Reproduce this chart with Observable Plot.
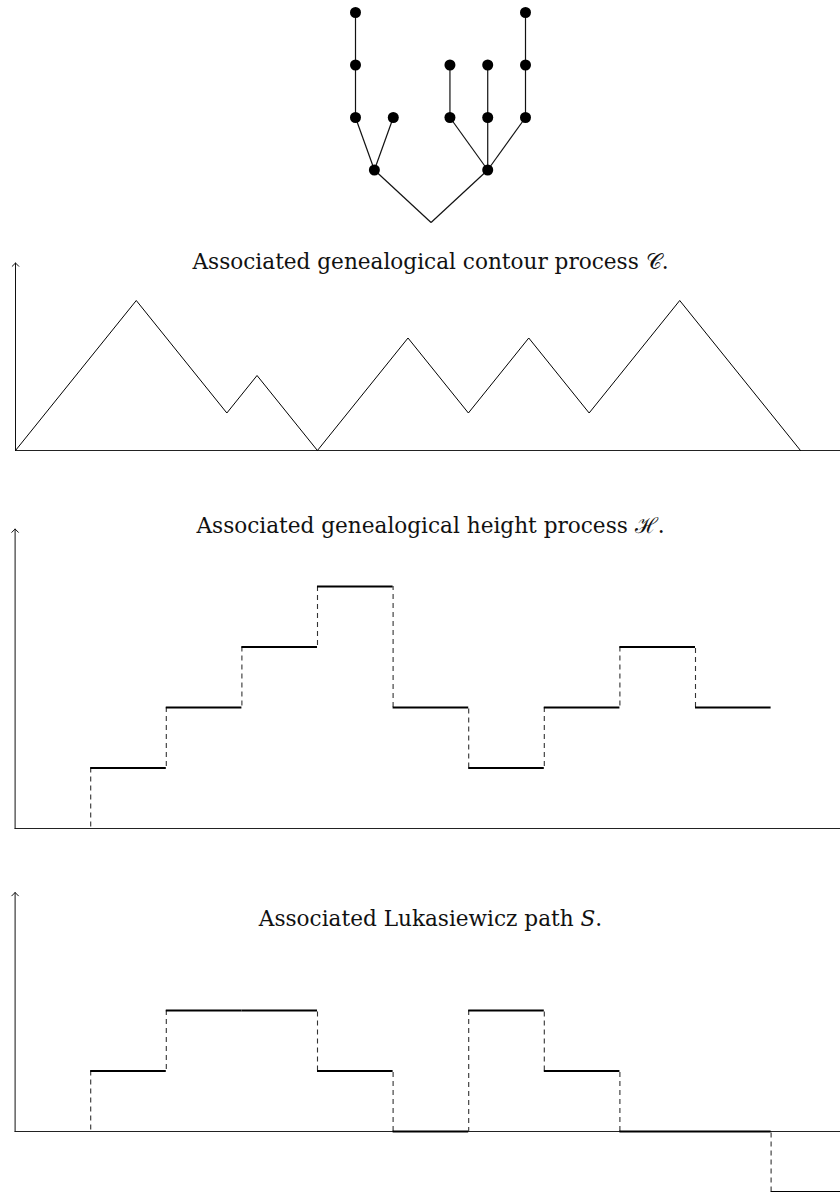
<!DOCTYPE html>
<html><head><meta charset="utf-8">
<script src="https://cdn.jsdelivr.net/npm/d3@7"></script>
<script src="https://cdn.jsdelivr.net/npm/@observablehq/plot@0.6"></script>
<style>
html,body{margin:0;padding:0;background:#fff;overflow:hidden;}
#root{width:840px;}
#root svg{display:block;}
</style></head><body><div id="root"></div>
<script>
// ---- Data ----
// Tree: horizontal slot, depth, parent index (-1 = root, drawn without dot)
const treeX      = [0, -3, -4, -4, -4, -2, 3, 1, 1, 3, 3, 5, 5, 5];
const treeDepth  = [0,  1,  2,  3,  4,  2, 1, 2, 3, 2, 3, 2, 3, 4];
const treeParent = [-1, 0,  1,  2,  3,  1, 0, 6, 7, 6, 9, 6, 11, 12];

// Contour process: time and height at each turning point
const contourT = [0, 4, 7, 8, 10, 13, 15, 17, 19, 22, 26];
const contourH = [0, 4, 1, 2, 0, 3, 1, 3, 1, 4, 0];

// Height process: values on [k, k+1] starting at k = 1
const heightStart = 1;
const heightValues = [1, 2, 3, 4, 2, 1, 2, 3, 2];

// Lukasiewicz path: values on [k, k+1] starting at k = 1
const lukaStart = 1;
const lukaValues = [1, 2, 2, 1, 0, 2, 1, 0, 0, -1];

// Titles
const contourTitle = ["Associated genealogical contour process ", "𝒞", "."];
const heightTitle = ["Associated genealogical height process ", "ℋ", "."];
const lukaTitle = ["Associated Lukasiewicz path ", "S", "."];

// ---- Helpers ----
const W = 840;
const serif = "'DejaVu Serif', 'Liberation Serif', serif";
const root = document.getElementById("root");

function titleMark(parts, dy) {
  return Plot.text([parts.join("")], {
    text: d => d, frameAnchor: "top", lineAnchor: "bottom",
    dx: 10, dy, fontSize: 21.6, fontFamily: serif, fill: "#111"
  });
}
function styleTitle(svg, parts, italicIndex) {
  const full = parts.join("");
  d3.select(svg).selectAll("text").filter(function () { return this.textContent === full; })
    .each(function () {
      const t = d3.select(this);
      t.text(null);
      parts.forEach((p, i) => {
        const s = t.append("tspan").text(p);
        if (i === italicIndex) s.attr("font-style", "italic");
      });
    });
}
function stepData(start, values) {
  const segs = values.map((h, i) => ({k0: start + i, k1: start + i + 1, h}));
  const jumps = [];
  let prev = 0;
  values.forEach((h, i) => {
    if (h !== prev) jumps.push({k: start + i, from: prev, to: h});
    prev = h;
  });
  return {segs, jumps};
}
function axisMarks(top, xEnd) {
  return [
    Plot.ruleY([0], {x1: 0, x2: xEnd, stroke: "#222", strokeWidth: 1}),
    Plot.arrow([0], {x1: 0, y1: 0, x2: 0, y2: top, stroke: "#111", strokeWidth: 1, headLength: 7, headAngle: 90})
  ];
}

// ---- Tree ----
const nodes = treeX.map((x, i) => ({x, d: treeDepth[i], p: treeParent[i]}));
const edges = nodes.filter(n => n.p >= 0).map(n => ({x1: nodes[n.p].x, y1: nodes[n.p].d, x2: n.x, y2: n.d}));
const treePlot = Plot.plot({
  width: W, height: 235, margin: 0,
  x: {domain: [-4, 5], range: [355, 525], axis: null},
  y: {domain: [0, 4], range: [222, 12], axis: null},
  marks: [
    Plot.link(edges, {x1: "x1", y1: "y1", x2: "x2", y2: "y2", stroke: "#111", strokeWidth: 1.2}),
    Plot.dot(nodes.filter(n => n.p >= 0), {x: "x", y: "d", r: 5.5, fill: "#000", stroke: "none"})
  ]
});
root.appendChild(treePlot);

// ---- Contour ----
const contour = contourT.map((t, i) => ({t, h: contourH[i]}));
const contourPlot = Plot.plot({
  width: W, height: 235, margin: 0,
  x: {domain: [0, 26], range: [15, 800], axis: null},
  y: {domain: [0, 4], range: [215, 65], axis: null},
  marks: [
    ...axisMarks(5, 28),
    Plot.line(contour, {x: "t", y: "h", stroke: "#000", strokeWidth: 1}),
    titleMark(contourTitle, 33)
  ]
});
styleTitle(contourPlot, contourTitle, -1);
root.appendChild(contourPlot);

// ---- Height process ----
const hs = stepData(heightStart, heightValues);
const heightPlot = Plot.plot({
  width: W, height: 370, margin: 0,
  x: {domain: [0, 10], range: [14.6, 770.6], axis: null},
  y: {domain: [0, 4], range: [358, 116], axis: null},
  marks: [
    ...axisMarks(4.95, 11),
    Plot.ruleX(hs.jumps, {x: "k", y1: "to", y2: "from", stroke: "#333", strokeWidth: 1.1, strokeDasharray: "5,4"}),
    Plot.ruleY(hs.segs, {x1: "k0", x2: "k1", y: "h", stroke: "#000", strokeWidth: 2}),
    titleMark(heightTitle, 62)
  ]
});
styleTitle(heightPlot, heightTitle, -1);
root.appendChild(heightPlot);

// ---- Lukasiewicz path ----
const ls = stepData(lukaStart, lukaValues);
const lukaPlot = Plot.plot({
  width: W, height: 352, margin: 0,
  x: {domain: [0, 10], range: [14.6, 770.6], axis: null},
  y: {domain: [0, 2], range: [291, 170], axis: null},
  marks: [
    ...axisMarks(3.95, 11),
    Plot.ruleX(ls.jumps, {x: "k", y1: "to", y2: "from", stroke: "#333", strokeWidth: 1.1, strokeDasharray: "5,4"}),
    Plot.ruleY(ls.segs, {x1: "k0", x2: "k1", y: "h", stroke: "#000", strokeWidth: 2}),
    titleMark(lukaTitle, 85)
  ]
});
styleTitle(lukaPlot, lukaTitle, 1);
root.appendChild(lukaPlot);
</script>
</body></html>
